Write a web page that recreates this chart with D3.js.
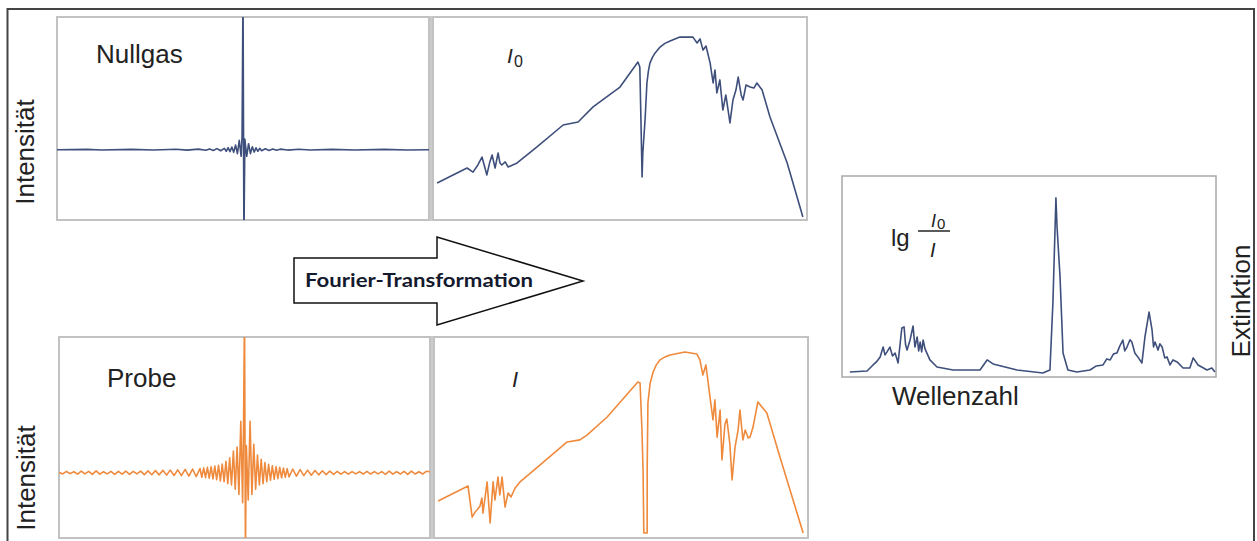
<!DOCTYPE html>
<html>
<head>
<meta charset="utf-8">
<script src="https://cdn.jsdelivr.net/npm/d3@7"></script>
<style>
  body { margin: 0; background: #fff; }
  svg { display: block; }
</style>
</head>
<body>
<svg id="chart" width="1257" height="541"></svg>
<script>
// ---- Interferograms: [optical path difference, signal] ----
const nullgasInterferogram = [
  [-50,0],[-42,0.002],[-38,-0.002],[-30,0.002],[-24,-0.002],[-18,0.003],[-15,-0.003],[-12,0.004],
  [-10,-0.004],[-9,0.006],[-8,-0.006],[-7,0.008],[-6,-0.008],[-5,0.01],[-4.5,-0.012],[-4,0.015],
  [-3.5,-0.015],[-3,0.02],[-2.5,-0.02],[-2,0.035],[-1.5,-0.03],[-1,0.07],[-0.5,-0.05],[-0.25,0.1],
  [0,1.2],[0.25,-0.7],[0.5,0.08],[1,-0.05],[1.5,0.045],[2,-0.03],[2.5,0.022],[3,-0.018],
  [3.5,0.014],[4,-0.012],[4.5,0.01],[5,-0.008],[6,0.007],[7,-0.006],[8,0.005],[9,-0.004],
  [10,0.004],[12,-0.003],[15,0.003],[18,-0.002],[24,0.002],[30,-0.002],[38,0.002],[44,-0.002],
  [50,0]
];

const probeInterferogram = [
  [-50,0.004],[-49,-0.008],[-48,0.01],[-47,-0.006],[-46,0.008],[-45,-0.01],[-44,0.012],[-43,-0.008],
  [-42,0.01],[-41,-0.012],[-40,0.014],[-39,-0.01],[-38,0.008],[-37,-0.008],[-36,0.01],[-35,-0.012],
  [-34,0.011],[-33,-0.01],[-32,0.013],[-31,-0.011],[-30,0.01],[-29,-0.008],[-28,0.012],[-27,-0.013],
  [-26,0.014],[-25,-0.014],[-24,0.016],[-23,-0.015],[-22,0.018],[-21,-0.017],[-20,0.02],[-19,-0.02],
  [-18,0.022],[-17,-0.021],[-16,0.025],[-15,-0.024],[-14,0.028],[-13,-0.028],[-12,0.032],
  [-11.5,-0.033],[-11,0.036],[-10.5,-0.036],[-10,0.04],[-9.5,-0.04],[-9,0.045],[-8.5,-0.045],[-8,0.05],
  [-7.5,-0.05],[-7,0.055],[-6.5,-0.06],[-6,0.065],[-5.5,-0.065],[-5,0.085],[-4.5,-0.08],[-4,0.11],
  [-3.5,-0.09],[-3,0.16],[-2.5,-0.12],[-2,0.19],[-1.5,-0.16],[-1,0.38],[-0.5,-0.22],[-0.25,0.38],
  [0,1.2],[0.25,-0.6],[0.5,0.2],[1,-0.2],[1.5,0.38],[2,-0.16],[2.5,0.21],[3,-0.12],[3.5,0.13],
  [4,-0.09],[4.5,0.1],[5,-0.08],[5.5,0.075],[6,-0.065],[6.5,0.062],[7,-0.055],[7.5,0.052],[8,-0.048],
  [8.5,0.045],[9,-0.042],[9.5,0.04],[10,-0.037],[10.5,0.035],[11,-0.033],[11.5,0.031],
  [12,-0.03],[13,0.028],[14,-0.025],[15,0.024],[16,-0.021],[17,0.02],[18,-0.018],[19,0.017],
  [20,-0.015],[21,0.015],[22,-0.013],[23,0.012],[24,-0.011],[25,0.01],[26,-0.01],[27,0.009],
  [28,-0.01],[29,0.009],[30,-0.008],[31,0.009],[32,-0.009],[33,0.01],[34,-0.009],[35,0.009],
  [36,-0.008],[37,0.009],[38,-0.011],[39,0.012],[40,-0.01],[41,0.009],[42,-0.009],[43,0.011],
  [44,-0.012],[45,0.013],[46,-0.009],[47,0.008],[48,-0.009],[49,0.011],[50,0.008]
];

// ---- Single-beam spectra (relative wavenumber, relative intensity) ----
const spectrumI0 = [
  [1.1,18.2],[9.1,25.6],[10.7,23.6],[12.0,27.1],[13.1,31.0],[13.9,25.6],[14.4,22.2],[15.2,28.6],
  [15.8,32.0],[16.6,25.6],[17.4,33.0],[17.9,28.1],[18.4,27.1],[19.3,28.6],[20.1,26.1],[22.5,28.1],
  [27.8,36.0],[34.8,46.8],[38.8,48.3],[42.8,55.7],[50.0,65.5],[54.8,77.8],[55.3,75.4],[55.6,49.3],
  [55.9,21.2],[56.1,33.0],[56.7,49.3],[57.2,67.5],[57.6,73.5],[58.0,77.3],[58.7,80.2],[59.4,82.3],
  [60.7,85.2],[62.0,87.0],[63.4,88.2],[66.0,90.1],[69.5,90.1],[70.6,87.2],[71.4,89.2],[72.2,83.7],
  [73.0,85.7],[74.1,77.3],[74.9,67.5],[75.4,73.9],[75.9,62.6],[76.7,69.0],[77.5,54.2],[78.3,61.6],
  [79.4,47.8],[80.2,59.1],[81.0,64.0],[81.6,70.4],[82.4,61.6],[82.9,59.1],[83.7,66.5],[84.8,65.5],
  [85.8,65.0],[86.6,67.5],[88.0,64.0],[90.1,50.7],[94.7,28.1],[98.9,1.5]
];

const spectrumI = [
  [1.1,18.4],[9.1,25.9],[10.2,10.4],[11.0,12.9],[11.5,13.9],[12.3,15.9],[12.8,19.9],[13.1,12.4],
  [14.2,27.9],[15.0,7.5],[15.8,27.9],[16.3,18.9],[17.1,30.3],[17.6,21.4],[18.2,30.3],[19.0,15.4],
  [19.8,22.4],[20.6,20.4],[21.7,24.9],[23.0,27.9],[28.3,36.3],[35.6,47.8],[39.0,48.8],[40.9,51.2],
  [46.3,60.2],[54.5,77.6],[55.1,77.1],[55.6,53.7],[55.9,33.8],[56.1,2.5],[57.0,2.5],[57.0,33.8],
  [57.2,67.2],[57.8,77.1],[58.6,82.6],[59.4,86.0],[60.4,88.6],[61.7,90.0],[63.1,91.0],[67.1,92.5],
  [70.3,91.5],[71.1,88.6],[71.9,81.1],[72.7,86.1],[73.8,70.1],[74.6,58.7],[75.1,68.7],[75.7,50.2],
  [76.5,63.7],[77.0,38.8],[77.8,56.7],[78.3,59.2],[79.1,46.8],[79.7,28.9],[80.5,45.3],[81.3,53.7],
  [81.8,63.7],[82.6,48.8],[83.2,53.7],[84.0,49.8],[84.5,50.2],[85.3,55.2],[86.6,67.7],[89.0,62.2],
  [92.5,40.3],[98.7,2.5]
];

// ---- Absorbance spectrum lg(I0/I) ----
const extinction = [
  [2.1,2.5],[6.7,3.0],[8.3,6.0],[9.2,7.5],[10.2,10.0],[11.0,14.9],[11.5,11.0],[12.0,12.4],[12.8,14.9],
  [13.5,10.5],[14.2,11.9],[15.0,7.0],[16.0,24.4],[16.6,24.9],[17.0,16.0],[17.4,13.4],[18.2,18.4],
  [19.0,25.4],[19.5,14.9],[20.1,19.9],[20.5,13.0],[20.9,17.4],[21.3,12.5],[21.7,18.4],[22.2,14.0],
  [22.7,11.9],[23.5,8.5],[25.4,5.0],[29.7,3.5],[36.9,3.5],[38.8,8.5],[40.4,6.5],[46.8,3.5],
  [53.7,2.0],[55.6,3.5],[56.4,37.3],[57.2,89.1],[57.5,74.6],[58.3,49.8],[59.1,11.9],[60.4,3.5],
  [62.8,2.5],[66.3,3.5],[68.0,5.5],[69.8,6.0],[70.8,9.0],[71.7,8.5],[72.6,11.5],[73.5,11.9],
  [74.3,15.5],[75.1,18.4],[75.6,13.0],[76.2,14.9],[77.0,18.5],[77.5,17.4],[78.3,11.9],[79.1,10.0],
  [80.2,7.0],[81.0,19.9],[82.1,32.3],[82.9,23.4],[83.3,15.0],[83.7,17.4],[84.5,13.4],[85.0,16.5],
  [85.6,14.9],[86.3,9.5],[86.9,10.0],[87.7,6.0],[88.5,8.5],[89.6,7.5],[91.2,4.5],[93.0,4.5],
  [93.9,9.5],[95.2,6.0],[97.6,3.5],[98.9,4.5],[99.7,2.5]
];

// ---- Drawing ----
const svg = d3.select("#chart");
const BLUE = "#3e4f7c";
const ORANGE = "#ef8a3c";
const FONT = "'Liberation Sans', Arial, sans-serif";

// outer frame
svg.append("path")
  .attr("d", "M7.5,541 L7.5,9 L1254,9 L1254,541")
  .attr("fill", "none").attr("stroke", "#444").attr("stroke-width", 2);

const panels = [
  { id: "p1", x0: 57, x1: 429, y0: 17, y1: 220, data: nullgasInterferogram, xd: [-50, 50], yd: [-0.53, 1], color: BLUE },
  { id: "p2", x0: 433, x1: 807, y0: 17, y1: 220, data: spectrumI0, xd: [0, 100], yd: [0, 100], color: BLUE },
  { id: "p3", x0: 59, x1: 430, y0: 337, y1: 538, data: probeInterferogram, xd: [-50, 50], yd: [-0.48, 1], color: ORANGE },
  { id: "p4", x0: 434, x1: 808, y0: 337, y1: 538, data: spectrumI, xd: [0, 100], yd: [0, 100], color: ORANGE },
  { id: "p5", x0: 842, x1: 1216, y0: 176, y1: 377, data: extinction, xd: [0, 100], yd: [0, 100], color: BLUE, thin: true }
];

const defs = svg.append("defs");
panels.forEach(p => {
  defs.append("clipPath").attr("id", "clip-" + p.id)
    .append("rect").attr("x", p.x0).attr("y", p.y0)
    .attr("width", p.x1 - p.x0).attr("height", p.y1 - p.y0);
});

// grey separators between the paired panels
svg.append("rect").attr("x", 428).attr("y", 16).attr("width", 5).attr("height", 205).attr("fill", "#cbcbcb");
svg.append("rect").attr("x", 430).attr("y", 336).attr("width", 5).attr("height", 203).attr("fill", "#cbcbcb");

panels.forEach(p => {
  svg.append("rect")
    .attr("x", p.x0).attr("y", p.y0)
    .attr("width", p.x1 - p.x0).attr("height", p.y1 - p.y0)
    .attr("fill", "none")
    .attr("stroke", p.thin ? "#a8a8a8" : "#c2c2c2")
    .attr("stroke-width", p.thin ? 1.5 : 2);

  const x = d3.scaleLinear().domain(p.xd).range([p.x0, p.x1]);
  const y = d3.scaleLinear().domain(p.yd).range([p.y1, p.y0]);
  const line = d3.line().x(d => x(d[0])).y(d => y(d[1]));

  svg.append("path")
    .datum(p.data)
    .attr("clip-path", "url(#clip-" + p.id + ")")
    .attr("d", line)
    .attr("fill", "none")
    .attr("stroke", p.color)
    .attr("stroke-width", 1.6)
    .attr("stroke-linejoin", "round");
});

// panel labels
function label(txt, x, y, size, opts = {}) {
  const t = svg.append("text").attr("x", x).attr("y", y)
    .attr("font-family", FONT).attr("font-size", size).attr("fill", "#222")
    .text(txt);
  if (opts.italic) t.attr("font-style", "italic");
  if (opts.rotate) t.attr("transform", `rotate(-90 ${x} ${y})`).attr("text-anchor", "middle");
  return t;
}

label("Nullgas", 96, 63, 26);
label("Probe", 107, 387, 26);
label("Intensität", 34, 152, 26, { rotate: true });
label("Intensität", 35, 478, 26, { rotate: true });
label("Extinktion", 1250, 301, 26, { rotate: true });
label("Wellenzahl", 892, 405, 26);

label("I", 507, 63, 21, { italic: true });
label("0", 514, 67, 16);
label("I", 512, 387, 22, { italic: true });

// lg(I0/I)
label("lg", 891, 246, 24);
label("I", 931, 227, 18, { italic: true });
label("0", 937, 229, 15);
svg.append("line").attr("x1", 918).attr("x2", 950).attr("y1", 231).attr("y2", 231)
  .attr("stroke", "#333").attr("stroke-width", 1.6);
label("I", 930, 257, 20, { italic: true });

// Fourier transformation arrow
const arrow = [[294, 258], [437, 258], [437, 237], [583, 281], [437, 325], [437, 303], [294, 303]];
svg.append("polygon")
  .attr("points", arrow.map(d => d.join(",")).join(" "))
  .attr("fill", "#fff").attr("stroke", "#111").attr("stroke-width", 1.5);
svg.append("text")
  .attr("x", 305).attr("y", 287)
  .attr("font-family", "Lato, 'Open Sans', sans-serif")
  .attr("font-weight", "bold").attr("font-size", 18)
  .attr("fill", "#141a2e")
  .attr("textLength", 228).attr("lengthAdjust", "spacingAndGlyphs")
  .text("Fourier-Transformation");
</script>
</body>
</html>
